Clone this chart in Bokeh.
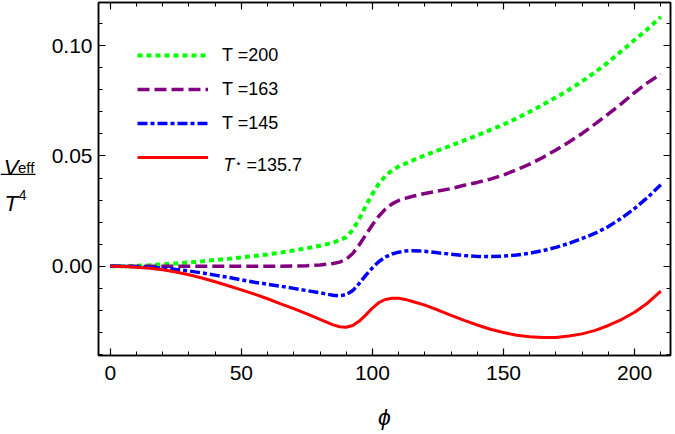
from bokeh.plotting import figure
from bokeh.layouts import row
from bokeh.models import (Range1d, FixedTicker, NumeralTickFormatter, LinearAxis,
                          CustomJSTickFormatter, Legend, LegendItem, Label,
                          BoxAnnotation, ColumnDataSource)
from bokeh.embed import file_html
from bokeh.resources import INLINE

# ---------------- data ----------------
phi = [0, 5, 10, 15, 20, 25, 30, 35, 40, 45, 50, 55, 60, 65, 70, 75, 80,
       82.5, 85, 87.5, 90, 92.5, 95, 97.5, 100, 102.5, 105, 107.5, 110, 112.5, 115,
       120, 125, 130, 135, 140, 145, 150, 155, 160, 165, 170, 175, 180, 185, 190,
       195, 200, 205, 210]

v_t200 = [0.0, 0.0, 0.0002, 0.0005, 0.0009, 0.0013, 0.0018, 0.0023, 0.0029, 0.0034,
          0.0040, 0.0047, 0.0054, 0.0062, 0.0072, 0.0082, 0.0093,
          0.0100, 0.0108, 0.0118, 0.0132, 0.0165, 0.0215, 0.0275, 0.0328, 0.0375,
          0.0410, 0.0435, 0.0452, 0.0465, 0.0478,
          0.0503, 0.0525, 0.0547, 0.0570, 0.0593, 0.0618, 0.0642, 0.0670, 0.0700,
          0.0732, 0.0765, 0.0800, 0.0838, 0.0880, 0.0925, 0.0975, 0.1025, 0.1075, 0.1130]

v_t163 = [0.0, 0.0, 0.0, 0.0, 0.0, 0.0, 0.0, 0.0, 0.0, 0.0,
          0.0, 0.0, 0.0, 0.0, 0.0001, 0.0003, 0.0006,
          0.0009, 0.0013, 0.0019, 0.0032, 0.0058, 0.0098, 0.0143, 0.0188, 0.0228,
          0.0260, 0.0283, 0.0298, 0.0308, 0.0316,
          0.0330, 0.0341, 0.0352, 0.0367, 0.0380, 0.0395, 0.0414, 0.0437, 0.0463,
          0.0493, 0.0527, 0.0563, 0.0602, 0.0645, 0.0690, 0.0737, 0.0787, 0.0832, 0.0870]

v_t145 = [0.0, 0.0, -0.0002, -0.0004, -0.0008, -0.0014, -0.0021, -0.0030, -0.0040, -0.0050,
          -0.0061, -0.0072, -0.0081, -0.0090, -0.0100, -0.0110, -0.0120,
          -0.0126, -0.0131, -0.0134, -0.0128, -0.0110, -0.0077, -0.0040, -0.0007, 0.0022,
          0.0042, 0.0056, 0.0064, 0.0069, 0.0071,
          0.0068, 0.0061, 0.0055, 0.0049, 0.0045, 0.0044, 0.0046, 0.0051, 0.0059,
          0.0071, 0.0086, 0.0104, 0.0126, 0.0150, 0.0180, 0.0218, 0.0262, 0.0312, 0.0370]

v_tstar = [0.0, -0.0001, -0.0004, -0.0009, -0.0016, -0.0026, -0.0038, -0.0053, -0.0070, -0.0088,
           -0.0107, -0.0126, -0.0147, -0.0170, -0.0192, -0.0215, -0.0240,
           -0.0253, -0.0265, -0.0274, -0.0276, -0.0268, -0.0248, -0.0220, -0.0189, -0.0164,
           -0.0150, -0.0145, -0.0145, -0.0150, -0.0158,
           -0.0176, -0.0198, -0.0222, -0.0245, -0.0266, -0.0285, -0.0300, -0.0312, -0.0319,
           -0.0323, -0.0322, -0.0316, -0.0306, -0.0290, -0.0268, -0.0241, -0.0208, -0.0166, -0.0112]

x_major = [0, 50, 100, 150, 200]
x_minor = list(range(0, 211, 10))
y_major = [0.0, 0.05, 0.10]
y_minor = [-0.04, -0.03, -0.02, -0.01, 0.0, 0.01, 0.02, 0.03, 0.04, 0.05,
           0.06, 0.07, 0.08, 0.09, 0.10, 0.11]

labels = ["T =200", "T =163", "T =145"]

FONT = "Liberation Sans"
LABEL_W = 36
B_TOP, B_BOTTOM = 2, 79
FB = 434 - B_BOTTOM   # frame bottom (canvas px)

def lab(fig, x, y_canvas, text, size, style="normal", font=FONT, baseline="alphabetic"):
    fig.add_layout(Label(x=x, y=FB - y_canvas, x_units="screen", y_units="screen",
                         text=text, text_font=font, text_font_size=size,
                         text_font_style=style, text_color="black",
                         text_baseline=baseline, text_align="left"))

# ---------------- left strip holding the y label (fraction) ----------------
q = figure(width=LABEL_W, height=434, output_backend="svg", toolbar_location=None,
           x_range=Range1d(0, 1), y_range=Range1d(0, 1),
           x_axis_location=None, y_axis_location=None,
           min_border_left=0, min_border_right=0,
           min_border_top=B_TOP, min_border_bottom=B_BOTTOM)
q.xgrid.visible = False
q.ygrid.visible = False
q.outline_line_color = None
q.background_fill_color = "white"
q.border_fill_color = "white"

lab(q, 3.3, 166.7, "V", "22px", "italic")
lab(q, 17.5, 167.0, "eff", "15px")
lab(q, 4.0, 202.5, "T", "22px", "italic")
lab(q, 18.3, 194.5, "4", "14px")
q.add_layout(BoxAnnotation(left=0, right=35, bottom=FB - 174.5, top=FB - 173.3,
                           left_units="screen", right_units="screen",
                           top_units="screen", bottom_units="screen",
                           fill_color="black", fill_alpha=1, line_color=None))

# ---------------- main figure ----------------
p = figure(width=675 - LABEL_W, height=434, output_backend="svg", toolbar_location=None,
           x_range=Range1d(-4.5, 213.7), y_range=Range1d(-0.0404, 0.1195),
           min_border_left=98 - LABEL_W, min_border_right=5, min_border_top=B_TOP,
           min_border_bottom=B_BOTTOM)
p.xgrid.visible = False
p.ygrid.visible = False
p.outline_line_color = "black"
p.outline_line_width = 1.5
p.background_fill_color = "white"
p.border_fill_color = "white"

def style_axis(ax, show_labels=True):
    ax.axis_line_color = "black"
    ax.axis_line_width = 1.5
    ax.major_tick_in = 7
    ax.major_tick_out = 0
    ax.minor_tick_in = 4
    ax.minor_tick_out = 0
    ax.major_tick_line_width = 1.2
    ax.minor_tick_line_width = 1.0
    ax.major_tick_line_color = "black"
    ax.minor_tick_line_color = "black"
    ax.major_label_text_font = FONT
    ax.major_label_text_color = "black"
    if show_labels:
        ax.major_label_text_font_size = "21px"
    else:
        ax.formatter = CustomJSTickFormatter(code="return ''")
        ax.major_label_text_font_size = "1px"
        ax.major_label_standoff = 0

p.xaxis.ticker = FixedTicker(ticks=x_major, minor_ticks=x_minor)
p.yaxis.ticker = FixedTicker(ticks=y_major, minor_ticks=y_minor)
p.yaxis.formatter = NumeralTickFormatter(format="0.00")
style_axis(p.xaxis[0])
style_axis(p.yaxis[0])
p.xaxis.major_label_standoff = 10
p.yaxis.major_label_standoff = 6
p.xaxis.axis_label = "ϕ"
p.xaxis.axis_label_text_font = FONT
p.xaxis.axis_label_text_font_style = "italic"
p.xaxis.axis_label_text_font_size = "23px"
p.xaxis.axis_label_text_color = "black"
p.xaxis.axis_label_standoff = 21

top_ax = LinearAxis(ticker=FixedTicker(ticks=x_major, minor_ticks=x_minor))
style_axis(top_ax, False)
right_ax = LinearAxis(ticker=FixedTicker(ticks=y_major, minor_ticks=y_minor))
style_axis(right_ax, False)
p.add_layout(top_ax, "above")
p.add_layout(right_ax, "right")

src = ColumnDataSource(dict(phi=phi, a=v_t200, b=v_t163, c=v_t145, d=v_tstar))
r1 = p.line("phi", "a", source=src, line_color="#00ff00", line_width=4, line_dash="5 4")
r2 = p.line("phi", "b", source=src, line_color="#800080", line_width=3.5, line_dash="12 5")
r3 = p.line("phi", "c", source=src, line_color="#0000ff", line_width=3.5, line_dash="10 3 4 3")
r4 = p.line("phi", "d", source=src, line_color="#ff0000", line_width=3)

legend = Legend(items=[LegendItem(label=labels[0], renderers=[r1]),
                       LegendItem(label=labels[1], renderers=[r2]),
                       LegendItem(label=labels[2], renderers=[r3]),
                       LegendItem(label=" ", renderers=[r4])],
                location=(39, 186), glyph_width=71, glyph_height=24, label_height=24,
                spacing=10, padding=0, margin=0, label_standoff=14,
                label_text_font=FONT, label_text_font_size="18px",
                label_text_color="black",
                border_line_color=None, background_fill_alpha=0)
p.add_layout(legend)

# last legend label: italic T with a star subscript (positions are frame-relative)
lab(p, 222.7 - 98, 164.5, "T", "18px", "italic")
lab(p, 234.5 - 98, 163.0, "⋆", "11px", font="DejaVu Sans", baseline="middle")
lab(p, 246.0 - 98, 164.5, "=135.7", "18px")

layout = row(q, p, spacing=0)
open("out.html", "w").write(file_html(layout, INLINE))
